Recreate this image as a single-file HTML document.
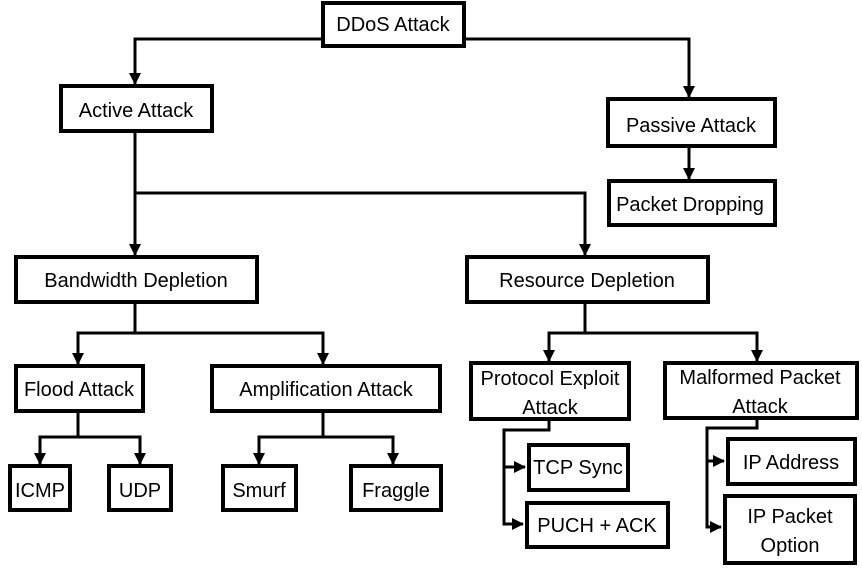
<!DOCTYPE html>
<html><head><meta charset="utf-8"><style>body{margin:0;background:#fff}svg{display:block}</style></head><body>
<svg width="862" height="573" viewBox="0 0 862 573" xmlns="http://www.w3.org/2000/svg">
<defs><marker id="a" markerWidth="12" markerHeight="12" refX="11" refY="6" orient="auto" markerUnits="userSpaceOnUse"><path d="M0,0 L12,6 L0,12 z" fill="#000"/></marker></defs>
<g fill="none" stroke="#000" stroke-width="3">
<path d="M322,39 H135 V84" marker-end="url(#a)"/>
<path d="M464,39 H689 V97" marker-end="url(#a)"/>
<path d="M689,146 V179" marker-end="url(#a)"/>
<path d="M135,131 V255" marker-end="url(#a)"/>
<path d="M135,193 H585 V255" marker-end="url(#a)"/>
<path d="M135,302 V333 H78 V364" marker-end="url(#a)"/>
<path d="M135,333 H323 V364" marker-end="url(#a)"/>
<path d="M78,411 V437 H40 V464" marker-end="url(#a)"/>
<path d="M78,437 H140 V464" marker-end="url(#a)"/>
<path d="M323,411 V437 H259 V464" marker-end="url(#a)"/>
<path d="M323,437 H393 V464" marker-end="url(#a)"/>
<path d="M585,302 V333 H549 V361" marker-end="url(#a)"/>
<path d="M585,333 H757 V361" marker-end="url(#a)"/>
<path d="M549,419 V430 H504 V524 H523" marker-end="url(#a)"/>
<path d="M504,467 H525" marker-end="url(#a)"/>
<path d="M757,418 V428 H707 V527 H721" marker-end="url(#a)"/>
<path d="M707,461 H724" marker-end="url(#a)"/>
</g>
<g fill="#fff" stroke="#000" stroke-width="4">
<rect x="323" y="3" width="141" height="43"/>
<rect x="61" y="86" width="151" height="45"/>
<rect x="608" y="99" width="167" height="47"/>
<rect x="609" y="181" width="166" height="44"/>
<rect x="16" y="257" width="241" height="45"/>
<rect x="467" y="257" width="241" height="45"/>
<rect x="16" y="366" width="127" height="45"/>
<rect x="212" y="366" width="228" height="45"/>
<rect x="471" y="363" width="158" height="56"/>
<rect x="665" y="363" width="192" height="55"/>
<rect x="10" y="466" width="60" height="44"/>
<rect x="109" y="466" width="62" height="44"/>
<rect x="223" y="466" width="73" height="44"/>
<rect x="351" y="466" width="90" height="44"/>
<rect x="529" y="445" width="99" height="45"/>
<rect x="527" y="503" width="141" height="44"/>
<rect x="728" y="439" width="127" height="45"/>
<rect x="725" y="496" width="130" height="67"/>
</g>
<g font-family="'Liberation Sans Narrow','Liberation Sans',sans-serif" font-size="20" text-anchor="middle" fill="#000">
<text x="393" y="31">DDoS Attack</text>
<text x="136" y="117">Active Attack</text>
<text x="691" y="132">Passive Attack</text>
<text x="690" y="211">Packet Dropping</text>
<text x="136" y="287">Bandwidth Depletion</text>
<text x="587" y="287">Resource Depletion</text>
<text x="79" y="396">Flood Attack</text>
<text x="326" y="396">Amplification Attack</text>
<text x="550" y="385">Protocol Exploit</text>
<text x="550" y="414">Attack</text>
<text x="760" y="384">Malformed Packet</text>
<text x="760" y="413">Attack</text>
<text x="40" y="497">ICMP</text>
<text x="140" y="497">UDP</text>
<text x="259" y="497">Smurf</text>
<text x="396" y="497">Fraggle</text>
<text x="578" y="474">TCP Sync</text>
<text x="597" y="532">PUCH + ACK</text>
<text x="791" y="469">IP Address</text>
<text x="790" y="523">IP Packet</text>
<text x="790" y="552">Option</text>
</g>
</svg>
</body></html>
